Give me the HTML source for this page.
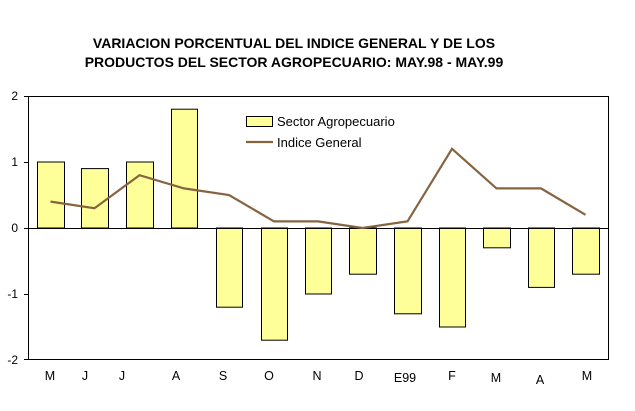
<!DOCTYPE html>
<html><head><meta charset="utf-8"><style>body{margin:0;background:#fff}svg{display:block}</style></head><body>
<svg width="635" height="411" xmlns="http://www.w3.org/2000/svg" font-family="Liberation Sans, Arial, sans-serif">
<rect width="635" height="411" fill="#fff"/>
<text x="294" y="48" font-size="14" font-weight="bold" text-anchor="middle">VARIACION PORCENTUAL DEL INDICE GENERAL Y DE LOS</text>
<text x="294" y="67" font-size="14" font-weight="bold" text-anchor="middle">PRODUCTOS DEL SECTOR AGROPECUARIO: MAY.98 - MAY.99</text>
<g fill="#ffff99" stroke="#000" stroke-width="1">
<rect x="37.5" y="162" width="27" height="66"/>
<rect x="81.5" y="168.6" width="27" height="59.4"/>
<rect x="126.5" y="162" width="27" height="66"/>
<rect x="171.5" y="109.2" width="26" height="118.8"/>
<rect x="216.5" y="228" width="26" height="79.2"/>
<rect x="261.5" y="228" width="26" height="112.2"/>
<rect x="305.5" y="228" width="26" height="66"/>
<rect x="349.5" y="228" width="27" height="46.2"/>
<rect x="394.5" y="228" width="27" height="85.8"/>
<rect x="439.5" y="228" width="26" height="99"/>
<rect x="483.5" y="228" width="27" height="19.8"/>
<rect x="528.5" y="228" width="26" height="59.4"/>
<rect x="572.5" y="228" width="27" height="46.2"/>
</g>
<g stroke="#000" stroke-width="1" fill="none">
<path d="M28.5 96.5H608.5V359.5H28.5Z"/>
<path d="M28.5 228.5H608.5"/>
<path d="M24 96.5H28.5M24 162.5H28.5M24 228.5H28.5M24 294.5H28.5M24 359.5H28.5M28.5 228V234"/>
</g>
<polyline fill="none" stroke="#86643f" stroke-width="2.2" points="50.5,201.6 94.5,208.2 139.5,175.2 184,188.4 229,195 274,221.4 318,221.4 362.5,228 407.5,221.4 452,148.8 496.5,188.4 541,188.4 585.5,214.8"/>
<g font-size="12" text-anchor="end">
<text x="18" y="100">2</text><text x="18" y="166">1</text><text x="18" y="232">0</text><text x="18" y="298">-1</text><text x="18" y="364">-2</text>
</g>
<g font-size="12.5" text-anchor="middle">
<text x="50" y="380">M</text><text x="85" y="380">J</text><text x="122" y="380">J</text><text x="176" y="380">A</text><text x="223" y="380">S</text><text x="269" y="380">O</text><text x="317" y="380">N</text><text x="359" y="380">D</text><text x="405" y="382">E99</text><text x="452" y="380">F</text><text x="496" y="382">M</text><text x="540" y="384">A</text><text x="587" y="380">M</text>
</g>
<rect x="246.5" y="116.5" width="26" height="10" fill="#ffff99" stroke="#000"/>
<line x1="246" y1="142" x2="273" y2="142" stroke="#86643f" stroke-width="2.2"/>
<text x="277" y="126" font-size="13">Sector Agropecuario</text>
<text x="277" y="147" font-size="13">Indice General</text>
</svg>
</body></html>
